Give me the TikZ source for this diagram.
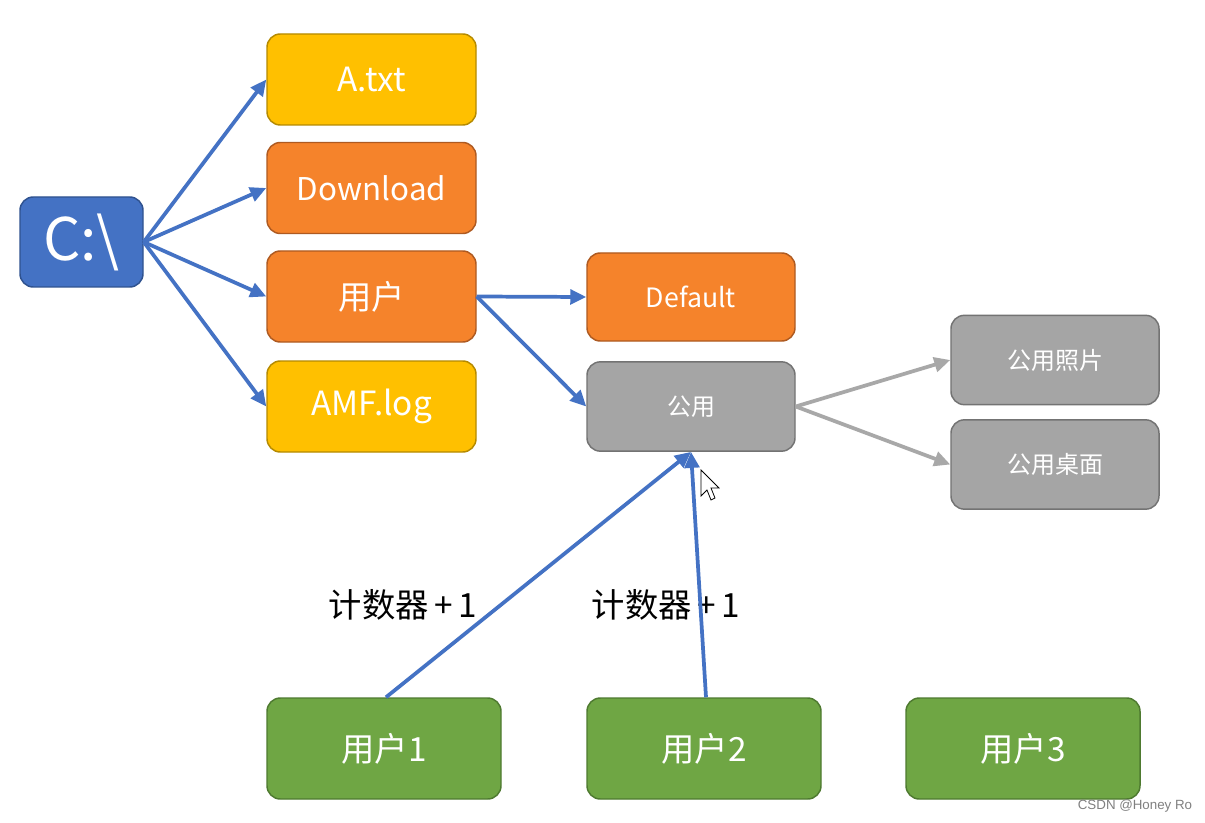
\documentclass[tikz,border=0pt]{standalone}
\usepackage{fontspec}
\setmainfont{Noto Sans CJK SC}
\newfontfamily\wmfont{Liberation Sans}
\usetikzlibrary{arrows.meta}
\definecolor{cblue}{HTML}{4472C4}
\definecolor{cbluedk}{HTML}{2F528F}
\definecolor{cyel}{HTML}{FFC000}
\definecolor{cyeldk}{HTML}{B58A00}
\definecolor{corg}{HTML}{F5832B}
\definecolor{corgdk}{HTML}{AE5A21}
\definecolor{cgray}{HTML}{A5A5A5}
\definecolor{cgraydk}{HTML}{737373}
\definecolor{cgrn}{HTML}{6FA644}
\definecolor{cgrndk}{HTML}{4E7A30}
\definecolor{carrowgray}{HTML}{A8A8A8}
\tikzset{
  box/.style={rounded corners=10pt, line width=1.1pt, text=white, align=center, inner sep=0pt},
  bluebox/.style={box, fill=cblue, draw=cbluedk, minimum width=92.25pt, minimum height=67.5pt, font=\fontsize{44}{46}\selectfont},
  yelbox/.style={box, fill=cyel, draw=cyeldk, minimum width=156.75pt, minimum height=68.25pt, font=\fontsize{25}{27}\selectfont},
  orgbox/.style={box, fill=corg, draw=corgdk, minimum width=156.75pt, minimum height=68.25pt, font=\fontsize{25}{27}\selectfont},
  orgsmall/.style={box, fill=corg, draw=corgdk, minimum width=156pt, minimum height=66pt, font=\fontsize{20}{22}\selectfont},
  graybox/.style={box, fill=cgray, draw=cgraydk, minimum width=156pt, minimum height=67pt, font=\fontsize{18}{20}\selectfont},
  grnbox/.style={box, fill=cgrn, draw=cgrndk, minimum width=175.5pt, minimum height=75.75pt, font=\fontsize{25}{27}\selectfont},
  barrow/.style={draw=cblue, line width=2.8pt, -{Triangle[length=12pt,width=11pt]}},
  garrow/.style={draw=carrowgray, line width=2.8pt, -{Triangle[length=12pt,width=11pt]}},
  lbl/.style={text=black, font=\fontsize{25}{27}\selectfont, inner sep=0pt},
}
\begin{document}
\begin{tikzpicture}[x=0.75pt, y=-0.75pt]
\useasboundingbox[fill=white] (0,0) rectangle (1205,823);
% nodes
\node[bluebox] (c) at (81.5,242) {C:\textbackslash};
\node[yelbox] (a) at (371.5,79.5) {A.txt};
\node[orgbox, font=\fontsize{23.5}{25}\selectfont] (d) at (371.5,188) {Download};
\node[orgbox] (u) at (371.5,296.5) {用户};
\node[yelbox] (amf) at (371.5,406.5) {AMF.log};
\node[orgsmall] (def) at (691,297) {Default};
\node[graybox] (gy) at (691,406.5) {公用};
\node[graybox] (zp) at (1055,360) {公用照片};
\node[graybox] (zm) at (1055,464.5) {公用桌面};
\node[grnbox] (u1) at (384,748.5) {用户1};
\node[grnbox] (u2) at (704,748.5) {用户2};
\node[grnbox] (u3) at (1023,748.5) {用户3};
% labels
\node[lbl] (l1) at (403,605) {计数器\,+\,1};
\node[lbl] (l2) at (666,605) {计数器\,+\,1};
% connectors
\draw[barrow] (c.east) -- (a.west);
\draw[barrow] (c.east) -- (d.west);
\draw[barrow] (c.east) -- (u.west);
\draw[barrow] (c.east) -- (amf.west);
\draw[barrow] (u.east) -- (def.west);
\draw[barrow] (u.east) -- (gy.west);
\draw[garrow] (gy.east) -- (zp.west);
\draw[garrow] (gy.east) -- (zm.west);
\draw[barrow] ([xshift=1.5pt]u1.north) -- (gy.south);
\draw[barrow] ([xshift=1.5pt]u2.north) -- (gy.south);
% mouse cursor
\draw[fill=white, draw=black, line width=0.6pt, line join=miter]
  (701,470) -- (701,496) -- (707,490) -- (711,500) -- (715,498) -- (711,488) -- (719,488) -- cycle;
% watermark
\node[text=gray, font=\wmfont\fontsize{10}{12}\selectfont, inner sep=0pt] (wm) at (1135,806) {CSDN @Honey Ro};
\end{tikzpicture}
\end{document}
